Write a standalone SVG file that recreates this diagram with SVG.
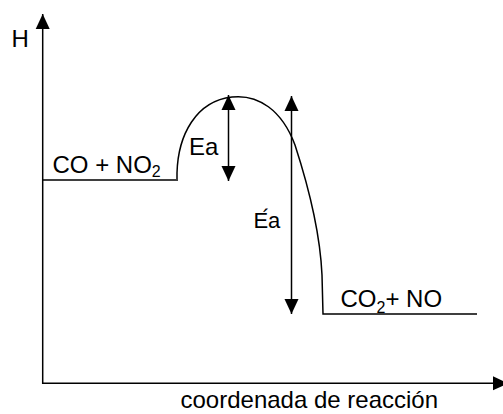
<svg xmlns="http://www.w3.org/2000/svg" width="503" height="414" viewBox="0 0 503 414">
<defs>
<style>
.ln{fill:none;stroke:#000;stroke-width:1.5}
.t{font-family:"Liberation Sans",Arial,sans-serif;font-size:24px;fill:#000}
.s{font-size:16px}
</style>
<marker id="ah" markerUnits="userSpaceOnUse" markerWidth="16" markerHeight="16" viewBox="0 0 16 16" refX="15" refY="8" orient="auto-start-reverse">
<path d="M0,1 L15,8 L0,15 Z" fill="#000"/>
</marker>
</defs>
<rect width="503" height="414" fill="#fff"/>
<g id="axes">
<line class="ln" x1="42.7" y1="384" x2="42.7" y2="14" marker-end="url(#ah)"/>
<line class="ln" x1="42" y1="383.3" x2="508" y2="383.3" marker-end="url(#ah)"/>
<text class="t" x="11.5" y="47">H</text>
<text class="t" x="180.5" y="408">coordenada de reacción</text>
</g>
<g id="curve">
<path class="ln" d="M43,180 L176,180 M177,181 L177,173 C178,135 196,101 232,97 C258,94 282,110 295,145 C308,185 320,230 322,275 L323,314 L477,314"/>
</g>
<g id="reactants">
<text class="t" x="52.5" y="172.7">CO + NO<tspan class="s" dy="4">2</tspan></text>
</g>
<g id="products">
<text class="t" x="340.5" y="306.7">CO<tspan class="s" dy="6">2</tspan><tspan dy="-6">+ NO</tspan></text>
</g>
<g id="connectors">
<line class="ln" x1="228.5" y1="95" x2="228.5" y2="181" marker-start="url(#ah)" marker-end="url(#ah)"/>
<line class="ln" x1="291.5" y1="96" x2="291.5" y2="314" marker-start="url(#ah)" marker-end="url(#ah)"/>
</g>
<g id="labels">
<text class="t" x="189" y="155">Ea</text>
<text class="t" style="font-size:22px" x="253.5" y="228.3" dx="0 -5.7 -1.8" dy="0 -3 3">E´a</text>
</g>
</svg>
